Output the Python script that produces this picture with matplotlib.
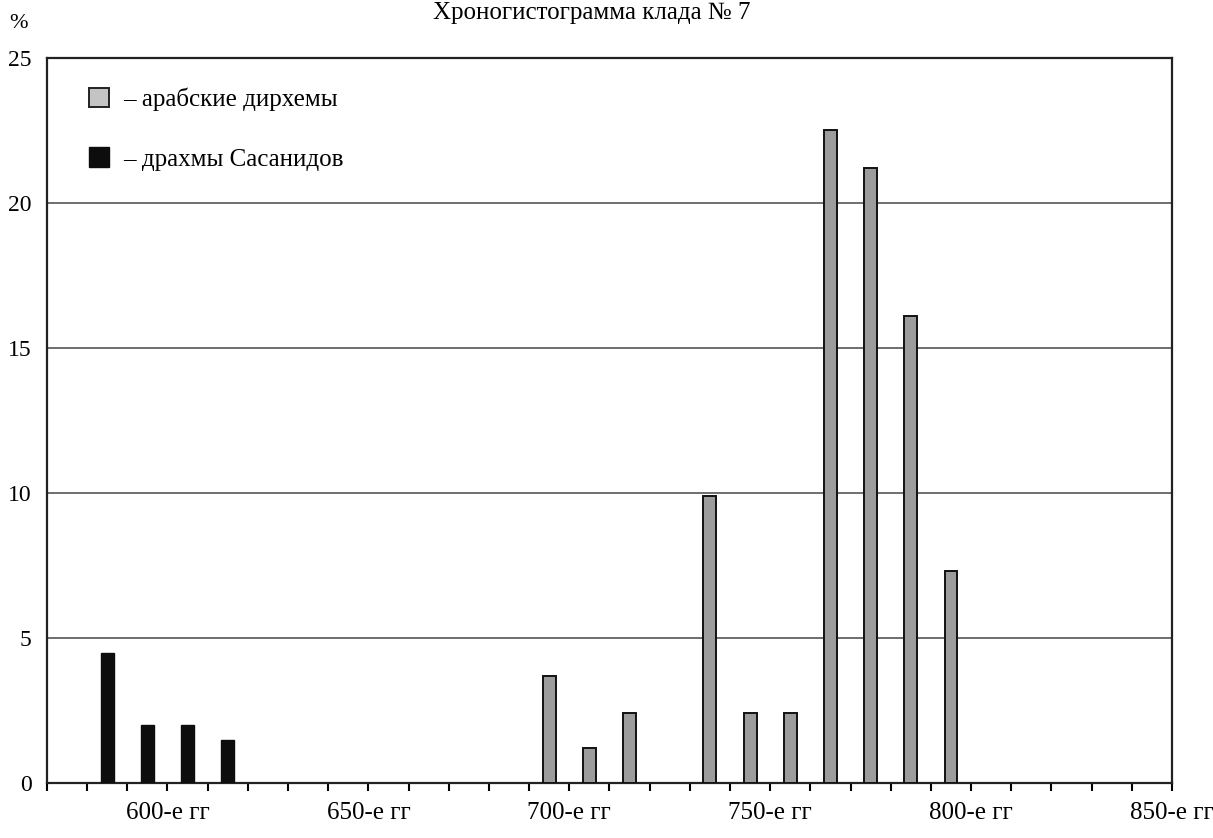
import matplotlib.pyplot as plt
from matplotlib.patches import Patch

# Данные (десятилетия, %)
arab_decades = [690, 700, 710, 730, 740, 750, 760, 770, 780, 790]
arab_pct = [3.7, 1.2, 2.4, 9.9, 2.4, 2.4, 22.5, 21.2, 16.1, 7.3]

sas_decades = [580, 590, 600, 610]
sas_pct = [4.5, 2.0, 2.0, 1.5]

tick_years = list(range(570, 851, 10))
label_years = [600, 650, 700, 750, 800, 850]
y_ticks = [0, 5, 10, 15, 20, 25]

TITLE = "Хроногистограмма клада № 7"
LBL_ARAB = "– арабские дирхемы"
LBL_SAS = "– драхмы Сасанидов"

plt.rcParams["font.family"] = ["Liberation Serif", "DejaVu Serif"]

fig = plt.figure(figsize=(12.13, 8.38), dpi=100)
ax = fig.add_axes([0.0387, 0.0656, 0.9275, 0.8652])

bar_w = 3.2
ax.bar([d + 5 for d in arab_decades], arab_pct, width=bar_w,
       color="#9c9c9c", edgecolor="#111111", linewidth=1.4, zorder=3)
ax.bar([d + 5 for d in sas_decades], sas_pct, width=bar_w,
       color="#0d0d0d", edgecolor="#0d0d0d", linewidth=1.0, zorder=3)

ax.set_xlim(570, 850)
ax.set_ylim(0, 25)

ax.set_xticks(tick_years)
ax.set_xticklabels([f"{y}-е гг" if y in label_years else "" for y in tick_years],
                   fontsize=18)
ax.tick_params(axis="x", direction="out", length=6, width=1.5, pad=8)

ax.set_yticks(y_ticks)
ax.set_yticklabels([str(v) for v in y_ticks], fontsize=17)
ax.tick_params(axis="y", length=0, pad=11)

for v in y_ticks[1:-1]:
    ax.axhline(v, color="#555555", linewidth=1.2, zorder=1)

for s in ax.spines.values():
    s.set_linewidth(1.6)
    s.set_color("#222222")

handles = [Patch(facecolor="#c4c4c4", edgecolor="#222222", linewidth=1.4),
           Patch(facecolor="#0d0d0d", edgecolor="#0d0d0d")]
ax.legend(handles, [LBL_ARAB, LBL_SAS], loc="upper left",
          bbox_to_anchor=(0.017, 0.99), frameon=False, fontsize=18,
          handlelength=0.8, handleheight=0.8, handletextpad=0.6,
          labelspacing=1.45)

fig.text(0.008, 0.972, "%", fontsize=16, ha="left", va="center")
fig.text(0.488, 0.977, TITLE, fontsize=18, ha="center", va="baseline")

fig.savefig("out.png", dpi=100)
